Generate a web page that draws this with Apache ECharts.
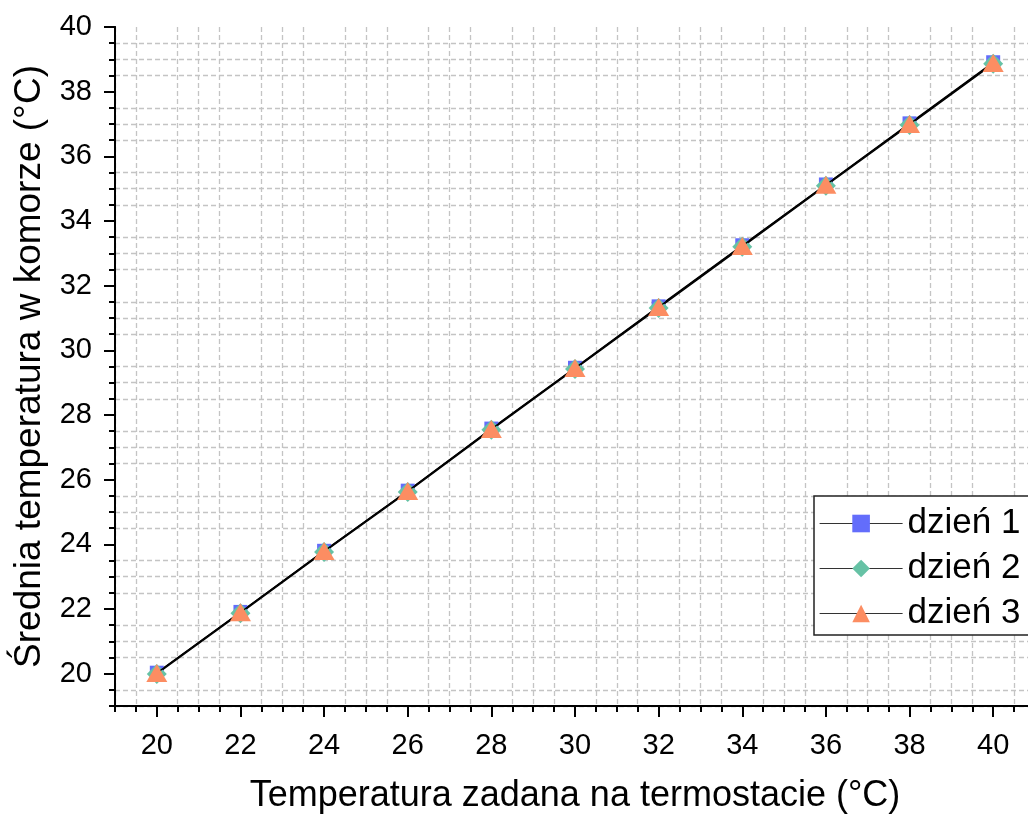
<!DOCTYPE html>
<html>
<head>
<meta charset="utf-8">
<title>Średnia temperatura w komorze</title>
<script src="https://cdn.jsdelivr.net/npm/echarts@6/dist/echarts.min.js"></script>
<style>
  html, body { margin: 0; padding: 0; background: #ffffff; }
  #chart { width: 1028px; height: 814px; }
</style>
</head>
<body>
<div id="chart"></div>
<script>
// Set-point temperature on the thermostat (°C)
const setPoints = [20, 22, 24, 26, 28, 30, 32, 34, 36, 38, 40];

// Mean chamber temperature measured on each day (°C)
const day1 = [20.03, 21.91, 23.80, 25.66, 27.58, 29.46, 31.36, 33.25, 35.13, 37.02, 38.91];
const day2 = [19.99, 21.87, 23.76, 25.62, 27.54, 29.42, 31.31, 33.20, 35.09, 36.97, 38.86];
const day3 = [20.02, 21.90, 23.79, 25.65, 27.57, 29.45, 31.34, 33.23, 35.12, 37.00, 38.89];

const seriesNames = ['dzień 1', 'dzień 2', 'dzień 3'];

// Labelled (major) tick values on both axes
const xTickLabels = [20, 22, 24, 26, 28, 30, 32, 34, 36, 38, 40];
const yTickLabels = [20, 22, 24, 26, 28, 30, 32, 34, 36, 38, 40];

const xRange = [19, 41];
const yRange = [19, 40];

// Minor positions every 0.5 that are not major ticks
function minorValues(range, majors) {
  const out = [];
  for (let v = range[0]; v <= range[1] + 1e-9; v += 0.5) {
    if (majors.indexOf(v) === -1) out.push(v);
  }
  return out;
}

const FONT = '"Liberation Sans", Arial, sans-serif';
const gridDash = { color: '#c4c4c4', width: 1.3, type: [5, 3] };

function minorAxis(range, majors, isX) {
  return {
    type: 'value',
    min: range[0],
    max: range[1],
    position: isX ? 'bottom' : 'left',
    axisLine: { show: true, onZero: false, lineStyle: { color: '#000', width: 2 } },
    axisTick: {
      show: true, inside: false, length: 6,
      customValues: minorValues(range, majors),
      lineStyle: { color: '#000', width: 2 }
    },
    splitLine: { show: true, lineStyle: gridDash },
    axisLabel: {
      show: true,
      customValues: majors,
      margin: isX ? 25 : 23,
      color: '#000',
      fontFamily: FONT,
      fontSize: 29
    }
  };
}

function majorAxis(range, majors, isX) {
  return {
    type: 'value',
    min: range[0],
    max: range[1],
    position: isX ? 'bottom' : 'left',
    offset: 0,
    axisLine: { show: true, onZero: false, lineStyle: { color: '#000', width: 2 } },
    axisTick: {
      show: true, inside: false, length: 11,
      customValues: majors,
      lineStyle: { color: '#000', width: 2 }
    },
    splitLine: { show: false },
    axisLabel: { show: false }
  };
}

const xMain = minorAxis(xRange, xTickLabels, true);
xMain.name = 'Temperatura zadana na termostacie (°C)';
xMain.nameLocation = 'middle';
xMain.nameGap = 72;
xMain.nameTextStyle = { color: '#000', fontFamily: FONT, fontSize: 36 };

const yMain = minorAxis(yRange, yTickLabels, false);
yMain.name = 'Średnia temperatura w komorze (°C)';
yMain.nameLocation = 'middle';
yMain.nameGap = 67;
yMain.nameTextStyle = { color: '#000', fontFamily: FONT, fontSize: 37 };

const symbols = ['rect', 'diamond', 'triangle'];
const symbolSizes = [14, 20, [21, 18]];
const colors = ['#636dfb', '#66c2a5', '#fc8d62'];
const values = [day1, day2, day3];

const series = seriesNames.map((name, i) => ({
  name: name,
  type: 'line',
  xAxisIndex: 0,
  yAxisIndex: 0,
  data: setPoints.map((x, k) => [x, values[i][k]]),
  symbol: symbols[i],
  symbolSize: symbolSizes[i],
  showAllSymbol: true,
  itemStyle: { color: colors[i] },
  lineStyle: { color: '#000', width: 1.3 },
  emphasis: { disabled: true },
  z: 2 + i
}));

const chart = echarts.init(document.getElementById('chart'), null, { renderer: 'canvas' });
chart.setOption({
  animation: false,
  backgroundColor: '#ffffff',
  grid: {
    left: 115, top: 27, width: 920, height: 679,
    containLabel: false,
    outerBoundsMode: 'none'
  },
  xAxis: [xMain, majorAxis(xRange, xTickLabels, true)],
  yAxis: [yMain, majorAxis(yRange, yTickLabels, false)],
  // Legend frame: white box that runs on past the right edge of the canvas
  graphic: [{
    type: 'rect',
    x: 814,
    y: 496,
    z: 10,
    shape: { x: 0, y: 0, width: 260, height: 139 },
    style: { fill: '#ffffff', stroke: '#222', lineWidth: 1.5 }
  }],
  legend: {
    data: seriesNames,
    orient: 'vertical',
    left: 814,
    top: 496,
    z: 20,
    itemWidth: 83,
    itemHeight: 22,
    itemGap: 10,
    padding: [10, 5, 8, 5],
    borderWidth: 0,
    backgroundColor: 'transparent',
    selectedMode: false,
    lineStyle: { color: '#333', width: 1.2 },
    textStyle: { color: '#000', fontFamily: FONT, fontSize: 35 }
  },
  series: series
});
</script>
</body>
</html>
